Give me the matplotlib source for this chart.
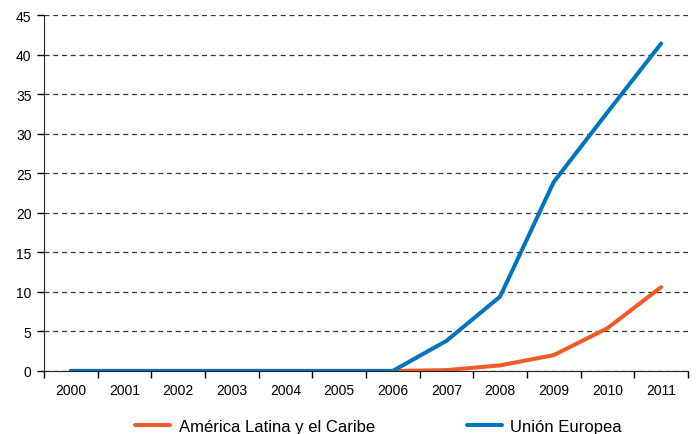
import matplotlib.pyplot as plt
import numpy as np

plt.rcParams['font.family'] = ['Liberation Sans', 'DejaVu Sans']

years = ['2000', '2001', '2002', '2003', '2004', '2005',
         '2006', '2007', '2008', '2009', '2010', '2011']
america_latina = [0, 0, 0, 0, 0, 0, 0, 0.1, 0.7, 2.0, 5.4, 10.6]
union_europea = [0, 0, 0, 0, 0, 0, 0, 3.8, 9.4, 23.9, 32.7, 41.4]

fig = plt.figure(figsize=(6.97, 4.35), dpi=100)
ax = fig.add_axes([0.063, 0.145, 0.924, 0.818])

x = np.arange(len(years))
ax.plot(x, america_latina, color='#F05A28', lw=2.9, solid_capstyle='round',
        label='América Latina y el Caribe')
ax.plot(x, union_europea, color='#0075BE', lw=2.9, solid_capstyle='round',
        label='Unión Europea')

ax.set_xlim(-0.5, len(years) - 0.5)
ax.set_ylim(0, 45)
ax.set_yticks(range(0, 46, 5))
ax.set_xticks(x)
ax.set_xticklabels(years)
ax.set_xticks(np.arange(-0.5, len(years), 1), minor=True)
ax.tick_params(axis='x', which='major', length=0, pad=9, labelsize=10)
ax.tick_params(axis='x', which='minor', length=5, width=1, direction='out')
ax.tick_params(axis='y', length=5, width=1, direction='out', labelsize=10, pad=4)

ax.grid(axis='y', color='#333333', linestyle=(0, (4, 3)), linewidth=0.9)
ax.set_axisbelow(True)
for s in ['top', 'right']:
    ax.spines[s].set_visible(False)
ax.spines['left'].set_color('#222222')
ax.spines['bottom'].set_color('#222222')

fig.legend(loc='center', bbox_to_anchor=(0.543, 0.018), ncol=2, frameon=False,
           fontsize=12, handlelength=2.1, columnspacing=5.5, handletextpad=0.5,
           borderpad=0.0)

fig.savefig('out.png', dpi=100)
